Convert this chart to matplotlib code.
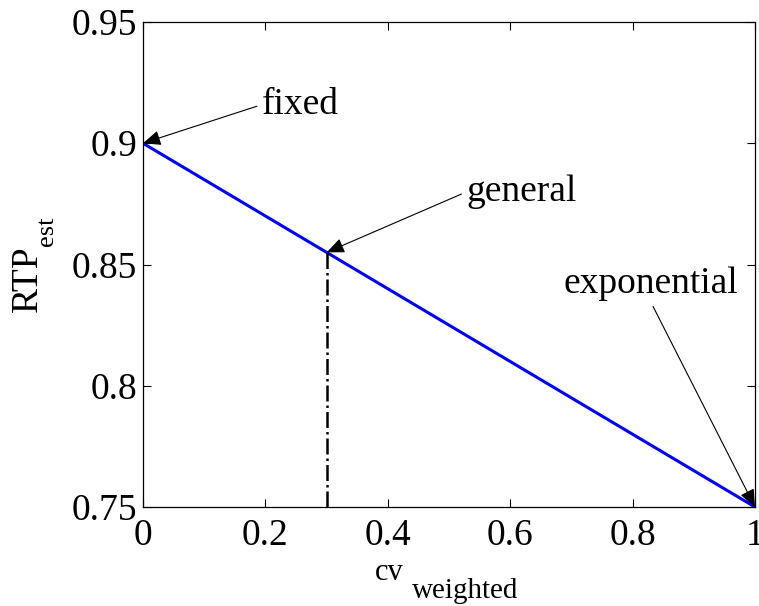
import numpy as np
import matplotlib
matplotlib.use("Agg")
import matplotlib.pyplot as plt

plt.rcParams['font.family'] = ['Liberation Serif', 'DejaVu Serif']

# data
cv = [0.0, 1.0]
rtp = [0.9, 0.75]
cv_general = 0.3
rtp_general = 0.855
xticks = [0, 0.2, 0.4, 0.6, 0.8, 1]
yticks = [0.75, 0.8, 0.85, 0.9, 0.95]

# annotations: label, target point, text position, arrow start on the text box
notes = [("fixed", (0.0, 0.9), (0.195, 0.916), (0, 0.5)),
         ("general", (0.3, 0.855), (0.529, 0.880), (0, 0.5)),
         ("exponential", (1.0, 0.75), (0.829, 0.842), (0.5, 0.0))]

fs = 27
W, H = 759, 606

fig = plt.figure(figsize=(W / 100, H / 100), dpi=100)
ax = fig.add_axes([143 / W, 1 - 507 / H, 612 / W, 485 / H])

ax.plot(cv, rtp, color='blue', lw=2.2)
ax.plot([cv_general, cv_general], [yticks[0], rtp_general], color='k',
        ls='-.', lw=1.8)

for txt, xy, xyt, rp in notes:
    ha = 'left' if rp[0] == 0 else 'center'
    ax.annotate(txt, xy=xy, xytext=xyt, fontsize=fs, ha=ha, va='center',
                arrowprops=dict(arrowstyle='-|>,head_length=0.4,head_width=0.17',
                                color='k', lw=0.8, relpos=rp,
                                shrinkA=2, shrinkB=0),
                annotation_clip=False)

ax.set_xlim(0, 1)
ax.set_ylim(0.75, 0.95)
ax.set_xticks(xticks)
ax.set_xticklabels(['0', '0.2', '0.4', '0.6', '0.8', '1'])
ax.set_yticks(yticks)
ax.set_yticklabels(['0.75', '0.8', '0.85', '0.9', '0.95'])
ax.tick_params(direction='in', top=True, right=True, length=6, width=0.8,
               labelsize=fs)
ax.tick_params(axis='x', pad=8)
ax.tick_params(axis='y', pad=4)
for s in ax.spines.values():
    s.set_linewidth(0.9)

# axis labels with MATLAB-style subscripts
fig.text(375 / W, 1 - 580 / H, 'cv', fontsize=22, ha='left', va='baseline')
fig.text(412 / W, 1 - 598 / H, 'weighted', fontsize=21, ha='left', va='baseline')
fig.text(37 / W, 1 - 312 / H, 'RTP', fontsize=fs, rotation=90,
         rotation_mode='anchor', ha='left', va='baseline')
fig.text(53 / W, 1 - 246 / H, 'est', fontsize=19, rotation=90,
         rotation_mode='anchor', ha='left', va='baseline')

fig.savefig("out.png", dpi=100, facecolor='w')
